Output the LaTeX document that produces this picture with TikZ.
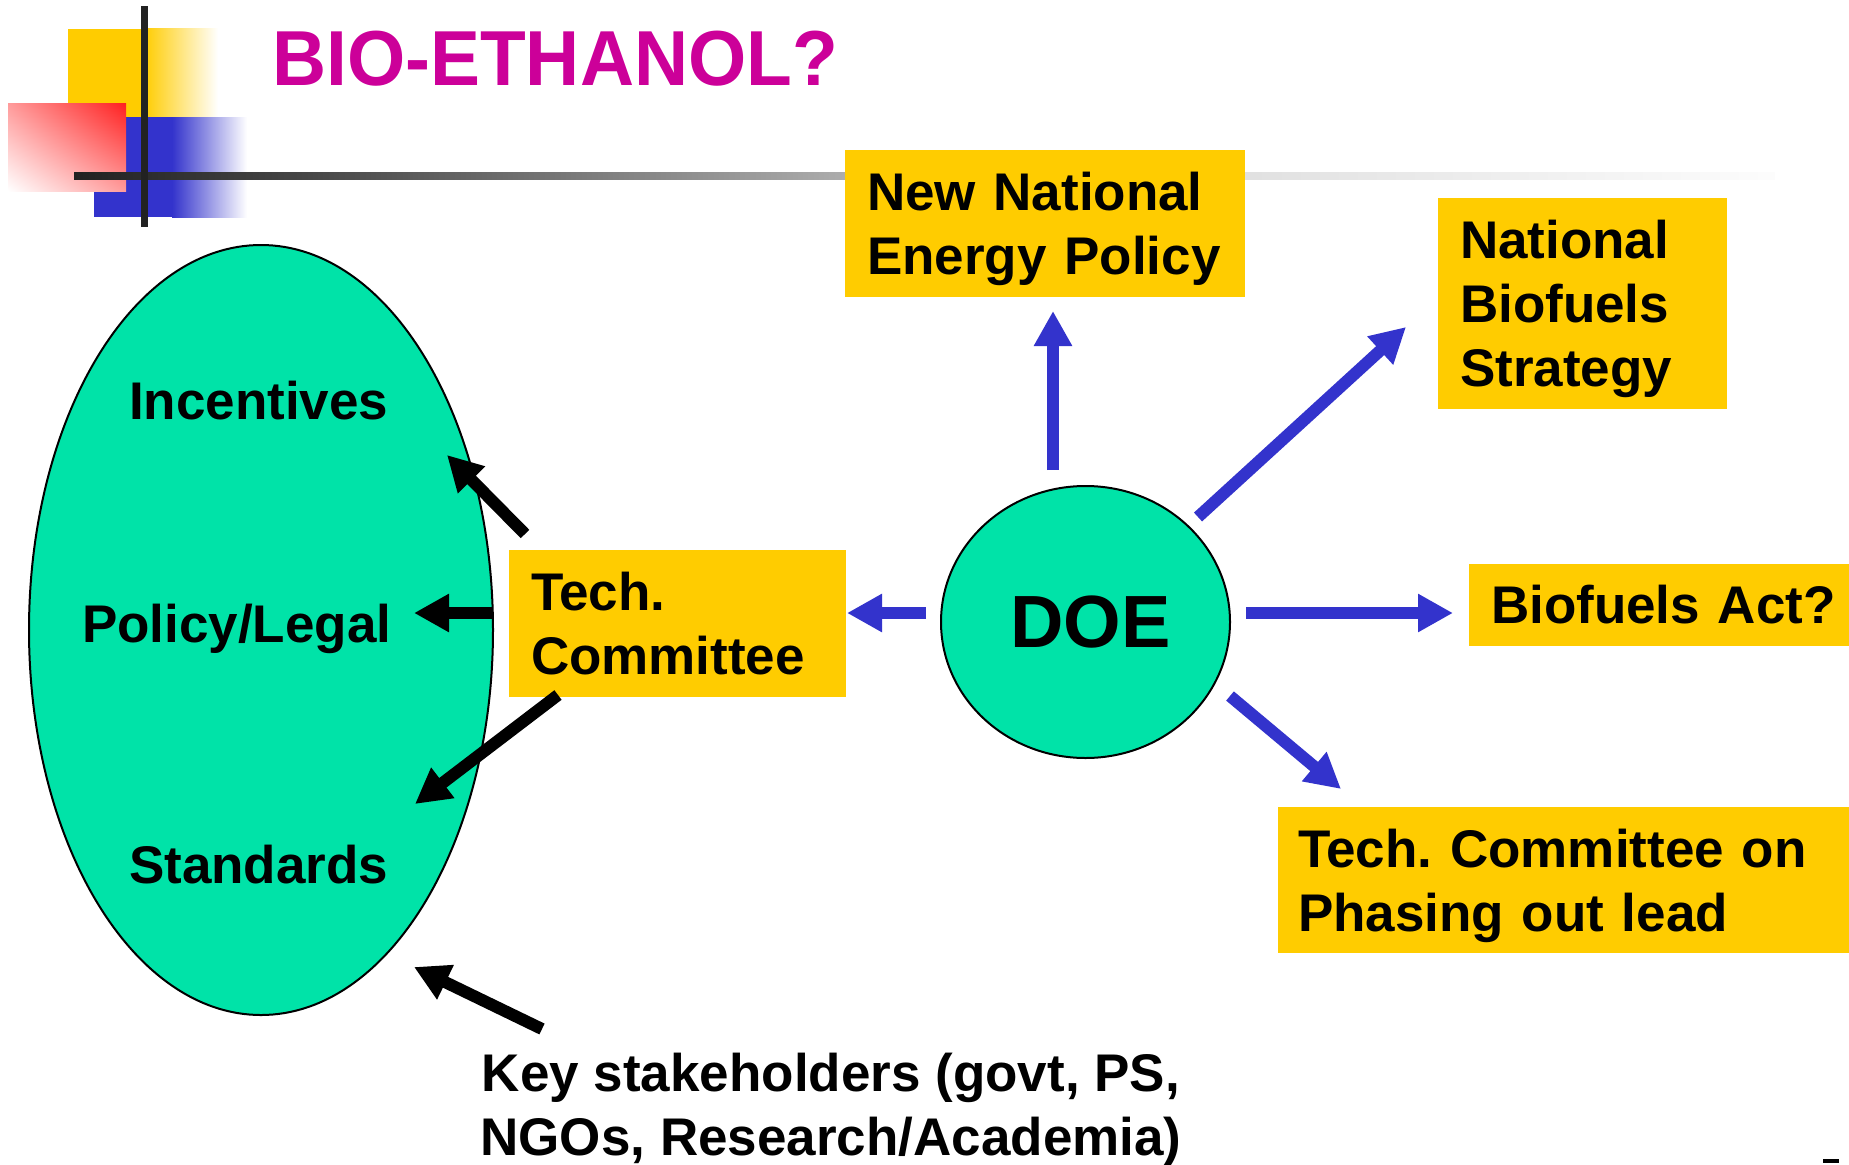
\documentclass[tikz,border=0pt]{standalone}
\usepackage{fontspec}
\setmainfont{Liberation Sans}
\newfontfamily\titlefont[FakeStretch=0.96]{Liberation Sans}
\usetikzlibrary{shapes.geometric,arrows.meta,calc,shadings}
\definecolor{sea}{RGB}{0,227,168}
\definecolor{gold}{RGB}{255,204,0}
\definecolor{arrowblue}{RGB}{51,51,204}
\definecolor{titlemag}{RGB}{204,0,153}
\definecolor{redsq}{RGB}{255,32,32}
\definecolor{linedark}{RGB}{34,34,34}
\pgfdeclarehorizontalshading{hline}{100bp}{color(0bp)=(black!87); color(25bp)=(black!87); color(31.6bp)=(black!73); color(47.4bp)=(black!33); color(59.3bp)=(black!12); color(75bp)=(black!1); color(100bp)=(black!1)}
\begin{document}
\frenchspacing
\begin{tikzpicture}[x=1pt,y=-1pt,
  bigtext/.style={font={\fontsize{53}{64}\selectfont\bfseries\frenchspacing}},
  ybox/.style={bigtext, fill=gold, draw=none, inner sep=0pt, inner xsep=22pt, outer sep=0pt, align=left, anchor=north west},
  lbl/.style={bigtext, inner sep=0pt, outer sep=0pt, anchor=base west},
  barrow/.style={draw=arrowblue, line width=12pt, -{Triangle[length=35pt,width=36pt]}},
  karrow/.style={draw=black, line width=12pt, -{Triangle[length=35pt,width=36pt]}}]
\useasboundingbox (0,0) rectangle (1849,1164);
% decoration
\fill[gold] (68,29) rectangle (144,117);
\shade[left color=gold, right color=white] (144,29) rectangle (218,117);
\fill[arrowblue] (94,117) rectangle (172,217);
\shade[left color=arrowblue, right color=white] (172,117) rectangle (247,217);
\shade[upper right=redsq, lower left=white, upper left=redsq!45, lower right=redsq!45] (8,103) rectangle (126,191);
\shade[shading=hline] (74,172) rectangle (1775,179);
\fill[linedark] (140.5,6) rectangle (147.5,227);
% title
\node[inner sep=0pt, anchor=base west, text=titlemag, font={\titlefont\fontsize{78}{80}\selectfont\bfseries}] (title) at (272,85) {BIO-ETHANOL?};
% ellipse
\node[ellipse, draw=black, line width=2pt, fill=sea, minimum width=464pt, minimum height=770pt, inner sep=0pt, outer sep=0pt] (ell) at (261,630) {};
\node[lbl] (inc) at (129,419) {Incentives};
\node[lbl] (pol) at (82,642) {Policy/Legal};
\node[lbl] (std) at (129,883) {Standards};
% DOE
\node[ellipse, draw=black, line width=2pt, fill=sea, minimum width=289pt, minimum height=272pt, inner sep=0pt, outer sep=0pt, font={\fontsize{74}{80}\selectfont\bfseries}] (doe) at (1085.5,622) {\hspace*{10pt}DOE};
% boxes
\node[ybox, text width=356pt, minimum height=147pt] (nnep) at (845,150) {New National\\\smash{Energy Policy}};
\node[ybox, text width=245pt, minimum height=211pt] (nbs) at (1438,198) {National\\Biofuels\\\smash{Strategy}};
\node[ybox, text width=293pt, minimum height=147pt] (tc) at (509,550) {Tech.\\Committee};
\node[ybox, text width=356pt, minimum height=82pt] (bact) at (1469,564) {Biofuels Act?};
\node[ybox, inner xsep=20pt, text width=550pt, minimum height=146pt] (tcpl) at (1278,807) {Tech. Committee on\\\smash{Phasing out lead}};
\node[bigtext, inner sep=0pt, outer sep=0pt, align=center] (ks) at (831,1110) {Key stakeholders (govt, PS,\\NGOs, Research/Academia)};
% blue arrows
\draw[barrow] ($(doe)+(-32.5,-152)$) -- ($(nnep.south)+(8,14)$);
\draw[barrow] ($(doe)+(112.5,-105)$) -- ($(nbs.south west)+(-32,-82)$);
\draw[barrow] ($(doe.east)+(16,-9)$) -- ($(bact.west)+(-16,8)$);
\draw[barrow] ($(doe)+(144.5,74)$) -- ($(tcpl.north west)+(63,-18)$);
\draw[barrow] ($(doe.west)+(-15,-9)$) -- ($(tc.east)+(1,-10.5)$);
% black arrows
\draw[karrow] ($(tc.north west)+(16,-16)$) -- ($(ell)+(186,-175)$);
\draw[karrow] ($(tc.west)+(-16,-10.5)$) -- ($(ell)+(153,-17)$);
\draw[karrow] ($(tc.south west)+(49,-2)$) -- ($(ell)+(154,174)$);
\draw[karrow] ($(ks)+(-289,-81)$) -- ($(ell)+(153,337)$);
% small mark
\fill[black] (1823,1159) rectangle (1839,1163);
\end{tikzpicture}
\end{document}
